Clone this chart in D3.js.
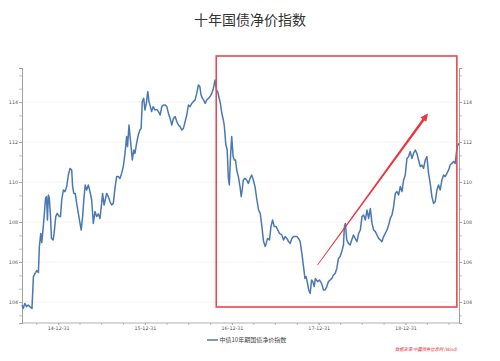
<!DOCTYPE html>
<html><head><meta charset="utf-8">
<script src="https://cdn.jsdelivr.net/npm/d3@7"></script>
<style>body{margin:0;background:#fff}svg{display:block}</style>
</head><body>
<svg id="c" width="500" height="361"></svg>
<script>
const title = "十年国债净价指数";
const seriesName = "中债10年期国债净价指数";
const sourceText = "数据来源:中国债券信息网 (Wind)";
const yTickLabels = [104, 106, 108, 110, 112, 114];
const xTickLabels = ["14-12-31","15-12-31","16-12-31","17-12-31","18-12-31"];
const dates = ["2014-08-01","2014-08-06","2014-08-13","2014-08-20","2014-08-27","2014-09-03","2014-09-12","2014-09-18","2014-09-25","2014-10-02","2014-10-09","2014-10-13","2014-10-19","2014-10-23","2014-10-27","2014-11-02","2014-11-08","2014-11-12","2014-11-16","2014-11-20","2014-11-24","2014-11-29","2014-12-03","2014-12-10","2014-12-14","2014-12-21","2014-12-27",
"2015-01-05","2015-01-10","2015-01-15","2015-01-22","2015-01-29","2015-02-05","2015-02-12","2015-02-19","2015-02-26","2015-03-02","2015-03-07","2015-03-13","2015-03-19","2015-03-26","2015-04-02","2015-04-07","2015-04-13","2015-04-19","2015-04-24","2015-04-30","2015-05-07","2015-05-14","2015-05-21","2015-05-28","2015-06-04","2015-06-11","2015-06-18","2015-06-25","2015-07-02","2015-07-06","2015-07-12","2015-07-17","2015-07-23","2015-07-30","2015-08-06","2015-08-13","2015-08-20","2015-08-27","2015-09-03","2015-09-10","2015-09-17","2015-09-24","2015-10-01","2015-10-08","2015-10-15","2015-10-19","2015-10-25","2015-10-31","2015-11-08","2015-11-14","2015-11-19","2015-11-26","2015-12-03","2015-12-10","2015-12-15","2015-12-20","2015-12-26","2015-12-31",
"2016-01-06","2016-01-12","2016-01-17","2016-01-23","2016-01-28","2016-02-04","2016-02-11","2016-02-19","2016-02-26","2016-03-04","2016-03-11","2016-03-18","2016-03-25","2016-04-01","2016-04-08","2016-04-15","2016-04-22","2016-04-29","2016-05-06","2016-05-13","2016-05-20","2016-05-27","2016-06-03","2016-06-10","2016-06-17","2016-06-24","2016-07-01","2016-07-08","2016-07-15","2016-07-22","2016-07-29","2016-08-05","2016-08-12","2016-08-18","2016-08-23","2016-08-29","2016-09-03","2016-09-09","2016-09-16","2016-09-23","2016-09-30","2016-10-07","2016-10-14","2016-10-21","2016-10-27","2016-11-01","2016-11-07","2016-11-13","2016-11-18","2016-11-25","2016-11-29","2016-12-05","2016-12-11","2016-12-16","2016-12-20","2016-12-25","2016-12-30",
"2017-01-05","2017-01-10","2017-01-15","2017-01-20","2017-01-27","2017-02-03","2017-02-08","2017-02-12","2017-02-17","2017-02-24","2017-03-03","2017-03-10","2017-03-17","2017-03-24","2017-03-31","2017-04-07","2017-04-15","2017-04-22","2017-04-29","2017-05-06","2017-05-13","2017-05-20","2017-05-24","2017-05-30","2017-06-07","2017-06-13","2017-06-20","2017-06-27","2017-07-05","2017-07-12","2017-07-19","2017-07-29","2017-08-05","2017-08-12","2017-08-19","2017-08-26","2017-09-02","2017-09-09","2017-09-16","2017-09-23","2017-09-30","2017-10-07","2017-10-14","2017-10-21","2017-10-28","2017-11-03","2017-11-08","2017-11-14","2017-11-19","2017-11-25","2017-12-01","2017-12-06","2017-12-12","2017-12-17","2017-12-26",
"2018-01-03","2018-01-12","2018-01-20","2018-01-27","2018-02-03","2018-02-10","2018-02-17","2018-02-24","2018-03-03","2018-03-10","2018-03-17","2018-03-24","2018-03-31","2018-04-07","2018-04-14","2018-04-18","2018-04-22","2018-04-28","2018-05-05","2018-05-12","2018-05-19","2018-05-26","2018-06-02","2018-06-10","2018-06-17","2018-06-24","2018-07-01","2018-07-08","2018-07-15","2018-07-22","2018-07-29","2018-08-05","2018-08-12","2018-08-19","2018-08-26","2018-09-02","2018-09-09","2018-09-16","2018-09-23","2018-09-30","2018-10-07","2018-10-14","2018-10-21","2018-10-28","2018-11-04","2018-11-11","2018-11-18","2018-11-25","2018-12-02","2018-12-09","2018-12-16","2018-12-23","2018-12-30",
"2019-01-06","2019-01-13","2019-01-20","2019-01-27","2019-02-03","2019-02-10","2019-02-17","2019-02-24","2019-03-03","2019-03-10","2019-03-17","2019-03-24","2019-03-31","2019-04-07","2019-04-14","2019-04-21","2019-04-28","2019-05-05","2019-05-12","2019-05-19","2019-05-26","2019-06-02","2019-06-09","2019-06-16","2019-06-23","2019-06-30","2019-07-07","2019-07-14","2019-07-21","2019-07-28","2019-08-05","2019-08-12"];
const values = [103.85,103.68,103.93,103.77,103.85,103.77,103.68,105.27,105.43,105.57,105.47,106.77,107.43,106.97,107.43,108.27,109.18,109.27,108.10,109.35,109.18,108.27,107.18,107.10,107.43,108.27,108.43,
108.27,108.27,109.10,109.60,109.52,109.77,110.35,110.68,110.60,109.77,109.43,109.43,108.93,108.43,107.93,107.60,108.27,109.27,109.85,109.60,109.85,109.52,109.10,107.93,108.52,108.27,108.40,108.18,108.93,109.43,108.85,109.10,109.43,109.27,109.02,108.85,108.93,109.68,110.27,110.27,110.18,110.43,110.77,111.40,112.27,111.77,112.85,112.10,111.10,111.60,111.43,111.93,112.35,112.60,112.68,114.02,114.18,113.60,
113.93,114.52,114.02,113.77,113.52,113.77,113.60,113.63,113.52,113.35,113.77,113.85,113.85,113.77,113.43,113.18,112.85,113.18,113.27,113.02,112.85,112.77,112.60,112.68,113.02,113.35,113.85,113.77,113.93,114.02,114.10,114.43,114.85,114.77,114.35,114.18,114.10,113.93,114.10,114.18,114.27,114.43,114.68,115.10,114.60,114.52,114.20,113.90,113.45,113.10,112.80,111.90,111.60,110.18,109.85,111.27,112.27,
111.27,111.10,111.10,110.60,110.27,109.77,109.27,109.60,110.10,110.18,110.10,109.93,110.18,110.35,110.10,109.77,109.10,108.60,108.43,107.77,107.02,106.77,106.93,107.18,107.10,107.77,108.10,107.77,107.77,107.60,107.43,107.35,107.10,107.27,107.18,107.02,106.93,107.18,107.27,107.27,107.27,107.18,107.02,106.43,105.77,105.18,105.27,104.93,104.60,104.43,105.10,105.02,104.77,105.18,105.02,
105.10,104.93,104.60,104.60,104.77,105.02,105.10,105.18,105.35,105.43,105.68,106.18,106.27,106.52,106.85,107.77,107.93,107.10,106.93,106.85,107.10,107.35,107.18,107.02,107.43,107.60,108.27,108.35,108.10,108.60,108.18,108.68,107.93,107.60,107.52,107.35,107.18,107.10,107.02,107.27,107.43,107.60,107.85,108.18,108.35,108.77,109.43,109.52,109.35,109.77,109.52,110.10,110.35,
111.18,111.27,111.52,111.18,111.43,111.60,111.43,111.10,110.77,110.85,110.68,111.10,111.27,110.43,109.93,109.27,108.93,109.02,109.60,109.85,109.60,110.10,110.35,110.27,110.43,110.60,110.85,110.93,111.02,110.93,111.77,111.93];
// annotation (data space): highlight box and trend arrow
const boxDates = ["2016-10-26","2019-08-04"];
const boxValues = [116.3, 103.75];
const arrowDates = ["2017-12-26","2019-04-05"];
const arrowValues = [105.85, 113.44];

const parse = d3.timeParse("%Y-%m-%d");
const data = dates.map((d,i)=>({date:parse(d), value:values[i]}));
const svg = d3.select("#c");
const L = 22, R = 459, T = 68, B = 323;
const x = d3.scaleTime().domain([parse("2014-08-01"), parse("2019-08-13")]).range([L, R]);
const y = d3.scaleLinear().domain([102.95, 115.7]).range([B, T]);
const axisColor = "#9a9a9a", labelColor = "#555";
const fontStack = "'Noto Sans CJK SC','Noto Sans',sans-serif";

// title
svg.append("text").attr("x",250).attr("y",25).attr("text-anchor","middle")
  .attr("font-family",fontStack).attr("font-size",14).attr("fill","#333").text(title);

// gridlines
svg.append("g").selectAll("line").data(yTickLabels).join("line")
  .attr("x1",L).attr("x2",R).attr("y1",d=>y(d)).attr("y2",d=>y(d))
  .attr("stroke","#ececec").attr("stroke-width",0.6);

const minorY = d3.range(102.95, 115.7, 2/3).map(v => Math.round((v - 104) / (2/3)) * (2/3) + 104).filter(v=>v>=y.domain()[0] && v<=y.domain()[1]);
const minorYTicks = d3.range(-1, 18).map(k=>104 + k*2/3).filter(v=>v>=103 && v<=115.7);

// left axis
const left = svg.append("g").attr("transform",`translate(${L},0)`)
  .call(d3.axisLeft(y).tickValues(minorYTicks).tickSize(3).tickFormat(""));
const leftL = svg.append("g").attr("transform",`translate(${L},0)`)
  .call(d3.axisLeft(y).tickValues(yTickLabels).tickSize(3).tickPadding(1).tickFormat(d3.format("d")));
// right axis
const right = svg.append("g").attr("transform",`translate(${R},0)`)
  .call(d3.axisRight(y).tickValues(minorYTicks).tickSize(3).tickFormat(""));
const rightL = svg.append("g").attr("transform",`translate(${R},0)`)
  .call(d3.axisRight(y).tickValues(yTickLabels).tickSize(3).tickPadding(1).tickFormat(d3.format("d")));

// bottom axis
const qEnds = d3.timeMonth.every(3).range(parse("2014-07-01"), parse("2019-10-01"))
  .map(d=>d3.timeDay.offset(d,-1)).filter(d=>d>=x.domain()[0] && d<=x.domain()[1]);
const labelDates = xTickLabels.map(s=>d3.timeParse("%y-%m-%d")(s));
const bottom = svg.append("g").attr("transform",`translate(0,${B})`)
  .call(d3.axisBottom(x).tickValues(qEnds).tickSize(2).tickFormat(""));
const bottomL = svg.append("g").attr("transform",`translate(0,${B})`)
  .call(d3.axisBottom(x).tickValues(labelDates).tickSize(2).tickPadding(2).tickFormat(d3.timeFormat("%y-%m-%d")));

[left,leftL,right,rightL,bottom,bottomL].forEach(g=>{
  g.select(".domain").attr("stroke",axisColor).attr("stroke-width",0.8);
  g.selectAll(".tick line").attr("stroke",axisColor).attr("stroke-width",0.6);
  g.selectAll(".tick text").attr("fill",labelColor).attr("font-size",4.8).attr("font-family","'DejaVu Sans',sans-serif");
});
bottom.select(".domain").remove();
bottomL.select(".domain").attr("d",`M${L},0H${R}`);

// series line
svg.append("path").datum(data)
  .attr("d", d3.line().x(d=>x(d.date)).y(d=>y(d.value)))
  .attr("fill","none").attr("stroke","#4a78b3").attr("stroke-width",1.5).attr("stroke-linejoin","round");

// highlight box
const bx0 = x(parse(boxDates[0])), bx1 = x(parse(boxDates[1]));
const by0 = y(boxValues[0]), by1 = y(boxValues[1]);
svg.append("rect").attr("x",bx0).attr("y",by0).attr("width",bx1-bx0).attr("height",by1-by0)
  .attr("fill","none").attr("stroke","#e8484f").attr("stroke-width",1.6);

// tapered arrow
const ax0 = x(parse(arrowDates[0])), ay0 = y(arrowValues[0]);
const ax1 = x(parse(arrowDates[1])), ay1 = y(arrowValues[1]);
const len = Math.hypot(ax1-ax0, ay1-ay0), ux=(ax1-ax0)/len, uy=(ay1-ay0)/len, nx=-uy, ny=ux;
const headL = 8, headW = 3.6, w0 = 0.4, w1 = 1.3;
const hx = ax1 - ux*headL, hy = ay1 - uy*headL;
svg.append("path").attr("d",
  `M${ax0+nx*w0},${ay0+ny*w0}L${hx+nx*w1},${hy+ny*w1}L${hx+nx*headW},${hy+ny*headW}L${ax1},${ay1}L${hx-nx*headW},${hy-ny*headW}L${hx-nx*w1},${hy-ny*w1}L${ax0-nx*w0},${ay0-ny*w0}Z`)
  .attr("fill","#e8383f");

// legend
svg.append("line").attr("x1",207).attr("x2",218).attr("y1",340).attr("y2",340)
  .attr("stroke","#4a78b3").attr("stroke-width",1.5);
svg.append("text").attr("x",219.5).attr("y",342.2).attr("font-family",fontStack)
  .attr("font-size",6).attr("fill","#444").text(seriesName);

// source
svg.append("text").attr("x",395).attr("y",350.5).attr("font-family",fontStack)
  .attr("font-size",4.6).attr("font-style","italic").attr("fill","#e3313a")
  .attr("textLength",62).attr("lengthAdjust","spacingAndGlyphs").text(sourceText);
</script>
</body></html>
